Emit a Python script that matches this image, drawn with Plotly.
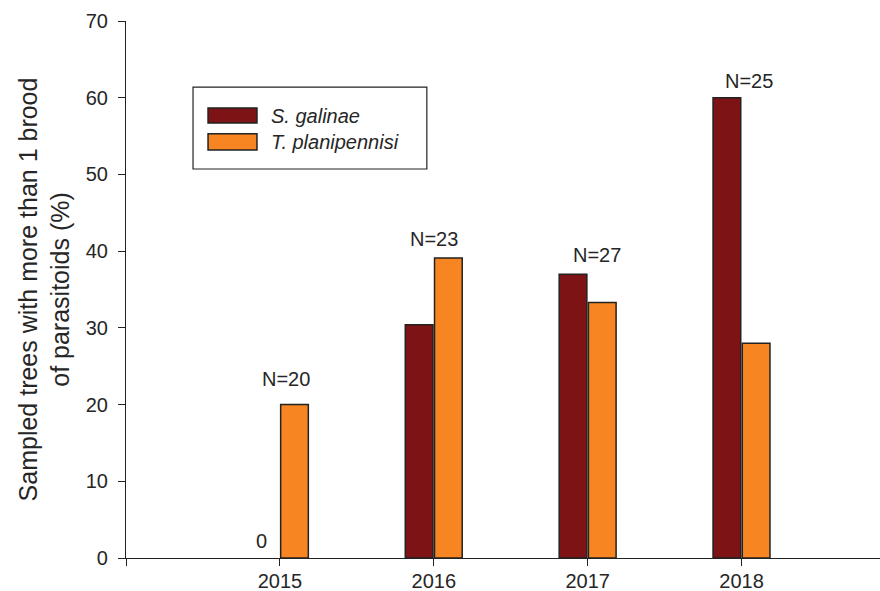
import plotly.graph_objects as go

# Percent of sampled trees hosting more than one brood of each parasitoid
years = [2015, 2016, 2017, 2018]
s_galinae = [0.0, 30.4, 37.0, 60.0]
t_planipennisi = [20.0, 39.1, 33.3, 28.0]
sample_sizes = [20, 23, 27, 25]
series_names = ["S. galinae", "T. planipennisi"]

DARK_RED = "#7e1316"
ORANGE = "#f68522"
EDGE = "#222222"
FONT = "Liberation Sans, Arial, sans-serif"
TEXT = "#262626"


def edge_widths(values):
    # no outline on empty bars, so nothing is drawn for a zero value
    return [0 if v == 0 else 1.5 for v in values]


fig = go.Figure()
fig.add_trace(go.Bar(
    x=years, y=s_galinae, name=series_names[0],
    width=0.18, offset=-0.185,
    marker=dict(color=DARK_RED, line=dict(color=EDGE, width=edge_widths(s_galinae))),
))
fig.add_trace(go.Bar(
    x=years, y=t_planipennisi, name=series_names[1],
    width=0.18, offset=0.005,
    marker=dict(color=ORANGE, line=dict(color=EDGE, width=edge_widths(t_planipennisi))),
))

# Sample size above each year's pair of bars
n_label_pos = [(2015.04, 23.3), (2016.0, 41.6), (2017.06, 39.5), (2018.05, 62.2)]
for n, (lx, ly) in zip(sample_sizes, n_label_pos):
    fig.add_annotation(x=lx, y=ly, text=f"N={n}", showarrow=False,
                       font=dict(family=FONT, size=20, color=TEXT),
                       xanchor="center", yanchor="middle")

# Zero-height bar gets its value written next to it
for yr, v in zip(years, s_galinae):
    if v == 0:
        fig.add_annotation(x=yr - 0.12, y=v, text=f"{v:.0f}", showarrow=False,
                           font=dict(family=FONT, size=20, color=TEXT),
                           xanchor="center", yanchor="bottom", yshift=4)

# Boxed key with wide swatches
fig.add_shape(type="rect", xref="paper", yref="paper",
              x0=0.0889, x1=0.399, y0=0.7244, y1=0.877,
              line=dict(color=EDGE, width=1.2), fillcolor="white")
swatches = [(DARK_RED, 0.810, 0.838), (ORANGE, 0.760, 0.790)]
for name, (col, sy0, sy1) in zip(series_names, swatches):
    fig.add_shape(type="rect", xref="paper", yref="paper",
                  x0=0.1088, x1=0.1737, y0=sy0, y1=sy1,
                  line=dict(color=EDGE, width=1.5), fillcolor=col)
    fig.add_annotation(xref="paper", yref="paper", x=0.1897, y=(sy0 + sy1) / 2,
                       text=f"<i>{name}</i>", showarrow=False,
                       font=dict(family=FONT, size=20, color=TEXT),
                       xanchor="left", yanchor="middle")

fig.update_layout(
    width=880, height=591,
    margin=dict(l=126, r=0, t=21, b=33),
    plot_bgcolor="white", paper_bgcolor="white",
    showlegend=False,
    font=dict(family=FONT, size=20, color=TEXT),
    xaxis=dict(
        range=[2014, 2018.9],
        tickvals=[2014, 2015, 2016, 2017, 2018],
        ticktext=["", "2015", "2016", "2017", "2018"],
        ticks="outside", ticklen=7, tickwidth=1.2, tickcolor=EDGE,
        showline=True, linecolor=EDGE, linewidth=1.2,
        showgrid=False, zeroline=False,
        tickfont=dict(family=FONT, size=20, color=TEXT),
        ticklabelstandoff=-2,
    ),
    yaxis=dict(
        range=[0, 70], tick0=0, dtick=10,
        ticks="outside", ticklen=7, tickwidth=1.2, tickcolor=EDGE,
        showline=True, linecolor=EDGE, linewidth=1.2,
        showgrid=False, zeroline=False,
        tickfont=dict(family=FONT, size=20, color=TEXT),
        ticklabelstandoff=6,
        title=dict(text="Sampled trees with more than 1 brood<br>of parasitoids (%)",
                   font=dict(family=FONT, size=25, color=TEXT), standoff=8),
    ),
)

fig.write_html("out.html")
